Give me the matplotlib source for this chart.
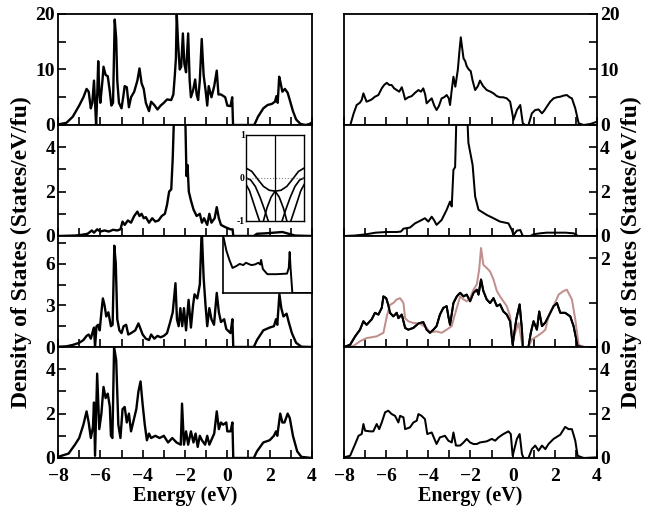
import numpy as np
import matplotlib
matplotlib.use("Agg")
import matplotlib.pyplot as plt
from matplotlib.ticker import MultipleLocator

plt.rcParams['font.family'] = ['Liberation Serif', 'DejaVu Serif']
plt.rcParams['font.weight'] = 'bold'

# energy range and tick labels
x_ticks = [-8, -6, -4, -2, 0, 2, 4]

# left column, (energy, DOS) pairs
left1 = [(-8.0,0.1),(-7.6,0.4),(-7.3,1.5),(-7.0,3.5),(-6.8,5.0),(-6.65,6.5),(-6.55,6.0),(-6.45,3.0),(-6.38,4.0),
         (-6.3,8.0),(-6.25,4.0),(-6.2,0.0),(-6.15,5.0),(-6.1,11.5),(-6.05,6.0),(-6.0,4.0),(-5.9,8.0),(-5.85,10.5),
         (-5.75,9.0),(-5.65,8.8),(-5.55,6.0),(-5.48,3.5),(-5.4,4.0),(-5.32,19.0),(-5.25,15.5),(-5.2,8.0),(-5.12,4.0),
         (-5.0,3.0),(-4.92,5.0),(-4.85,7.0),(-4.75,6.8),(-4.65,3.2),(-4.55,5.0),(-4.4,6.0),(-4.25,8.0),(-4.15,10.2),
         (-4.05,7.5),(-3.95,6.5),(-3.85,4.0),(-3.7,2.5),(-3.6,4.2),(-3.45,3.6),(-3.3,2.8),(-3.15,3.5),(-3.0,4.0),
         (-2.85,4.6),(-2.65,4.5),(-2.55,5.5),(-2.48,9.0),(-2.43,12.0),(-2.39,20.0),(-2.33,15.0),(-2.25,10.0),
         (-2.18,10.5),(-2.1,16.5),(-2.03,11.0),(-1.95,9.5),(-1.85,16.5),(-1.78,8.0),(-1.72,5.0),(-1.62,6.2),
         (-1.52,8.2),(-1.45,5.5),(-1.38,4.5),(-1.3,8.0),(-1.21,15.5),(-1.12,9.0),(-1.02,6.0),(-0.95,3.5),(-0.88,7.0),
         (-0.75,5.0),(-0.62,7.0),(-0.5,9.8),(-0.42,5.5),(-0.3,5.5),(-0.1,5.0),(0.0,3.5),(0.15,3.4),(0.23,5.0),
         (0.27,0.0),(1.27,0.0),(1.45,1.5),(1.7,3.0),(1.9,3.6),(2.1,3.8),(2.25,4.2),(2.32,5.2),(2.38,4.0),(2.45,8.7),
         (2.52,7.5),(2.6,6.0),(2.72,6.5),(2.85,5.8),(2.95,4.5),(3.1,2.5),(3.25,1.0),(3.45,0.2),(3.7,0.0),(3.9,0.2),
         (4.0,0.5)]
left2 = [(-8.0,0.0),(-7.2,0.02),(-6.9,0.05),(-6.6,0.1),(-6.4,0.25),(-6.3,0.15),(-6.15,0.3),(-6.0,0.2),(-5.8,0.25),
         (-5.6,0.2),(-5.4,0.28),(-5.2,0.25),(-5.05,0.3),(-4.95,0.65),(-4.85,0.5),(-4.7,0.7),(-4.55,0.6),(-4.4,0.9),
         (-4.25,1.1),(-4.15,0.9),(-4.05,1.0),(-3.95,0.8),(-3.85,0.85),(-3.7,0.6),(-3.55,0.8),(-3.4,0.65),(-3.25,0.7),
         (-3.1,0.9),(-2.95,1.0),(-2.85,1.4),(-2.75,2.0),(-2.65,2.1),(-2.58,3.5),(-2.5,6.0),(-2.0,6.0),(-1.93,2.7),
         (-1.88,3.2),(-1.82,2.0),(-1.72,1.6),(-1.6,1.2),(-1.45,0.9),(-1.3,1.0),(-1.2,0.6),(-1.1,0.8),(-0.95,0.5),
         (-0.85,1.0),(-0.75,0.6),(-0.6,0.8),(-0.5,1.3),(-0.4,0.8),(-0.3,0.5),(-0.1,0.4),(0.15,0.3),(0.25,0.3),
         (0.28,0.0),(1.25,0.0),(1.4,0.1),(1.8,0.12),(2.2,0.15),(2.6,0.18),(2.9,0.1),(3.2,0.02),(4.0,0.0)]
left3 = [(-8.0,0.02),(-7.6,0.05),(-7.3,0.15),(-7.0,0.3),(-6.8,0.5),(-6.65,0.8),(-6.55,0.9),(-6.45,0.6),(-6.38,1.0),
         (-6.3,1.4),(-6.25,0.0),(-6.18,1.5),(-6.1,1.6),(-6.03,1.2),(-5.95,2.5),(-5.88,3.5),(-5.8,3.0),(-5.72,2.2),
         (-5.62,2.5),(-5.5,1.5),(-5.42,1.6),(-5.34,7.3),(-5.27,6.0),(-5.2,2.0),(-5.1,1.2),(-5.0,1.0),(-4.9,1.5),
         (-4.78,1.6),(-4.68,0.9),(-4.55,1.0),(-4.35,1.2),(-4.2,1.7),(-4.1,1.3),(-4.0,0.9),(-3.85,0.6),(-3.7,0.5),
         (-3.6,0.9),(-3.45,0.6),(-3.3,0.8),(-3.15,0.7),(-3.0,0.8),(-2.85,1.0),(-2.7,1.8),(-2.58,2.5),(-2.45,4.6),
         (-2.38,2.0),(-2.3,1.5),(-2.22,2.8),(-2.13,1.5),(-2.05,2.8),(-1.95,1.2),(-1.83,3.4),(-1.72,1.4),(-1.62,3.0),
         (-1.55,3.8),(-1.42,3.5),(-1.3,4.5),(-1.21,8.5),(-1.12,5.0),(-1.03,3.0),(-0.95,1.5),(-0.85,2.8),(-0.75,2.0),
         (-0.63,1.6),(-0.5,3.9),(-0.4,2.5),(-0.3,1.8),(-0.15,2.0),(-0.05,1.3),(0.15,1.0),(0.24,2.0),(0.28,0.0),
         (1.25,0.0),(1.4,0.5),(1.7,1.2),(2.0,1.4),(2.2,1.5),(2.3,2.0),(2.36,1.6),(2.46,3.8),(2.55,2.8),(2.65,2.2),
         (2.8,2.4),(2.9,1.8),(3.05,1.0),(3.25,0.3),(3.5,0.02),(4.0,0.0)]
left4 = [(-8.0,0.05),(-7.5,0.2),(-7.2,0.6),(-7.0,0.9),(-6.8,1.5),(-6.65,2.1),(-6.55,1.6),(-6.45,0.9),(-6.35,1.4),
         (-6.3,2.5),(-6.25,0.1),(-6.15,3.8),(-6.05,1.3),(-5.95,2.0),(-5.85,3.2),(-5.75,2.7),(-5.65,2.9),(-5.55,2.3),
         (-5.5,1.0),(-5.43,0.9),(-5.35,5.0),(-5.25,4.4),(-5.15,1.5),(-5.05,0.9),(-4.95,2.2),(-4.85,2.3),(-4.75,1.6),
         (-4.65,2.0),(-4.55,1.2),(-4.45,1.6),(-4.3,2.2),(-4.2,3.0),(-4.1,3.45),(-4.0,2.4),(-3.9,1.5),(-3.8,0.8),
         (-3.7,1.1),(-3.6,0.9),(-3.4,1.0),(-3.2,0.9),(-3.0,1.0),(-2.8,0.7),(-2.6,0.9),(-2.4,0.7),(-2.2,0.6),
         (-2.14,2.45),(-2.05,0.6),(-1.95,1.2),(-1.85,0.6),(-1.72,1.2),(-1.6,0.7),(-1.5,1.1),(-1.4,0.5),(-1.3,1.0),
         (-1.2,0.8),(-1.05,0.6),(-0.95,1.0),(-0.85,0.6),(-0.62,1.1),(-0.5,2.1),(-0.4,1.3),(-0.3,1.6),(-0.2,1.5),
         (-0.05,1.6),(0.0,1.2),(0.15,1.2),(0.24,1.6),(0.28,0.0),(1.25,0.0),(1.4,0.3),(1.7,0.7),(2.0,0.8),(2.2,1.0),
         (2.3,1.2),(2.36,1.0),(2.5,2.0),(2.6,1.6),(2.7,1.6),(2.85,2.0),(2.95,1.8),(3.1,1.0),(3.3,0.3),(3.5,0.05),
         (4.0,0.0)]

# right column
right1 = [(-8.0,0.0),(-7.7,0.0),(-7.55,2.0),(-7.4,3.6),(-7.25,4.0),(-7.16,4.5),(-7.08,5.7),(-6.93,4.2),(-6.8,4.4),
          (-6.69,4.6),(-6.53,5.1),(-6.37,5.4),(-6.21,6.6),(-6.1,7.2),(-5.97,7.6),(-5.85,7.2),(-5.74,7.2),(-5.62,6.6),
          (-5.5,6.3),(-5.38,6.0),(-5.26,6.8),(-5.18,5.8),(-5.1,4.6),(-4.95,5.0),(-4.79,5.2),(-4.63,5.8),(-4.47,6.3),
          (-4.35,6.0),(-4.24,6.6),(-4.15,5.5),(-4.08,3.9),(-3.95,4.4),(-3.84,4.8),(-3.72,3.5),(-3.61,2.7),(-3.5,3.4),
          (-3.37,4.8),(-3.25,5.0),(-3.13,5.4),(-3.03,4.8),(-2.97,3.6),(-2.9,6.0),(-2.81,8.7),(-2.72,6.9),(-2.6,10.0),
          (-2.52,13.5),(-2.46,15.8),(-2.4,14.0),(-2.33,12.0),(-2.25,11.5),(-2.18,10.6),(-2.08,10.0),(-1.99,9.7),
          (-1.9,8.0),(-1.78,6.3),(-1.65,7.0),(-1.55,8.0),(-1.4,7.0),(-1.23,6.3),(-1.05,6.0),(-0.91,5.7),(-0.75,5.2),
          (-0.6,5.0),(-0.45,5.0),(-0.28,4.8),(-0.12,4.2),(0.04,0.9),(0.2,2.7),(0.36,3.6),(0.48,0.3),(0.6,0.0),
          (0.75,0.0),(0.91,2.1),(1.07,2.7),(1.23,2.8),(1.39,2.1),(1.5,2.6),(1.62,3.3),(1.78,4.2),(1.94,4.8),(2.1,5.0),
          (2.26,5.1),(2.42,5.3),(2.57,5.4),(2.7,5.0),(2.81,4.8),(2.97,3.0),(3.13,0.3),(3.37,0.0),(3.7,0.2),(4.0,0.6)]
right2 = [(-8.0,0.0),(-7.5,0.02),(-6.93,0.08),(-6.5,0.15),(-6.0,0.18),(-5.5,0.18),(-5.3,0.2),(-5.18,0.33),
          (-4.87,0.38),(-4.63,0.57),(-4.4,0.68),(-4.16,0.8),(-4.0,0.65),(-3.84,0.87),(-3.72,0.7),(-3.61,0.5),
          (-3.37,0.72),(-3.13,1.18),(-2.97,1.55),(-2.89,1.33),(-2.81,2.98),(-2.73,3.1),(-2.65,6.0),(-2.18,6.0),
          (-2.1,4.2),(-1.98,3.6),(-1.9,3.2),(-1.78,1.78),(-1.62,1.18),(-1.23,0.95),(-0.91,0.8),(-0.6,0.65),
          (-0.2,0.57),(-0.04,0.27),(0.04,0.05),(0.2,0.24),(0.36,0.27),(0.48,0.0),(0.84,0.0),(1.0,0.08),(1.3,0.12),
          (1.6,0.15),(2.5,0.15),(2.9,0.12),(3.1,0.0),(4.0,0.0)]
right3_black = [(-8.0,0.0),(-7.71,0.05),(-7.47,0.24),(-7.24,0.39),(-7.08,0.58),(-6.93,0.5),(-6.69,0.62),(-6.53,0.77),
                (-6.37,0.73),(-6.21,0.88),(-6.13,1.14),(-6.0,1.1),(-5.9,0.95),(-5.82,0.77),(-5.66,0.69),(-5.5,0.77),
                (-5.42,0.65),(-5.26,0.73),(-5.1,0.43),(-4.95,0.39),(-4.71,0.43),(-4.47,0.53),(-4.24,0.56),(-4.08,0.39),
                (-3.92,0.32),(-3.76,0.39),(-3.61,0.47),(-3.45,0.73),(-3.29,0.88),(-3.13,0.92),(-3.05,0.69),(-2.97,0.5),
                (-2.81,0.99),(-2.65,1.14),(-2.49,1.22),(-2.33,1.14),(-2.18,1.18),(-2.02,1.03),(-1.86,1.22),(-1.7,1.29),
                (-1.62,1.18),(-1.5,1.52),(-1.39,1.26),(-1.23,1.07),(-1.07,0.99),(-0.91,1.1),(-0.75,0.92),(-0.6,0.96),
                (-0.44,0.8),(-0.28,0.73),(-0.12,0.58),(0.0,0.05),(0.17,0.62),(0.33,0.96),(0.44,0.39),(0.48,0.0),
                (0.75,0.0),(0.86,0.32),(0.99,0.58),(1.15,0.39),(1.26,0.8),(1.39,0.47),(1.55,0.55),(1.7,0.69),
                (1.94,0.92),(2.1,0.99),(2.26,0.77),(2.49,0.77),(2.73,0.69),(2.89,0.47),(3.08,0.02),(3.37,0.0),(4.0,0.0)]
right3_pink = [(-8.0,0.0),(-7.56,0.02),(-7.24,0.13),(-6.93,0.2),(-6.45,0.24),(-6.13,0.32),(-5.97,0.69),(-5.82,0.95),
               (-5.66,0.99),(-5.5,1.07),(-5.34,1.1),(-5.18,0.99),(-5.1,0.65),(-4.95,0.58),(-4.71,0.54),(-4.4,0.53),
               (-4.08,0.43),(-3.92,0.33),(-3.61,0.35),(-3.37,0.32),(-3.13,0.39),(-2.89,0.47),(-2.81,0.62),(-2.65,0.88),
               (-2.49,1.14),(-2.33,1.07),(-2.18,1.03),(-2.02,1.1),(-1.86,1.29),(-1.7,1.41),(-1.59,1.74),(-1.5,2.23),
               (-1.39,1.85),(-1.23,1.78),(-1.07,1.7),(-0.91,1.52),(-0.75,1.26),(-0.6,1.14),(-0.44,1.03),(-0.28,0.92),
               (-0.12,0.69),(0.0,0.13),(0.12,0.32),(0.28,0.54),(0.44,0.09),(0.52,0.0),(0.75,0.0),(0.91,0.17),
               (1.15,0.24),(1.39,0.32),(1.55,0.39),(1.7,0.69),(1.94,0.92),(2.18,1.18),(2.41,1.26),(2.57,1.29),
               (2.81,1.07),(2.97,0.62),(3.13,0.05),(3.37,0.0),(4.0,0.0)]
right4 = [(-8.0,0.03),(-7.71,0.1),(-7.47,0.63),(-7.31,1.0),(-7.16,1.08),(-7.08,1.53),(-7.0,1.23),(-6.77,1.2),
          (-6.61,1.2),(-6.45,1.53),(-6.33,1.3),(-6.21,1.6),(-6.05,2.06),(-5.9,2.13),(-5.74,1.98),(-5.58,1.9),
          (-5.42,1.6),(-5.34,1.9),(-5.18,1.83),(-5.1,1.3),(-4.87,1.38),(-4.71,1.6),(-4.55,1.68),(-4.47,1.98),
          (-4.32,1.9),(-4.16,1.75),(-4.05,1.08),(-3.84,1.15),(-3.61,0.63),(-3.45,0.93),(-3.21,1.0),(-3.05,0.78),
          (-2.89,0.7),(-2.81,1.15),(-2.69,0.56),(-2.49,0.56),(-2.33,0.7),(-2.18,0.86),(-2.02,0.7),(-1.86,0.63),
          (-1.7,0.63),(-1.55,0.7),(-1.23,0.75),(-0.99,0.86),(-0.83,0.78),(-0.67,0.93),(-0.44,1.08),(-0.2,1.2),
          (-0.09,1.08),(0.0,0.1),(0.2,0.86),(0.33,1.08),(0.44,0.18),(0.52,0.0),(0.75,0.0),(0.91,0.4),(1.07,0.56),
          (1.23,0.33),(1.39,0.56),(1.55,0.4),(1.7,0.63),(1.94,0.86),(2.26,1.05),(2.49,1.4),(2.65,1.3),(2.81,1.3),
          (2.97,0.78),(3.08,0.1),(3.37,0.0),(4.0,0.03)]

# inset of panel 3 (relative units)
inset_dos = [(0.0,1.05),(0.04,0.75),(0.075,0.58),(0.11,0.44),(0.15,0.47),(0.19,0.51),(0.23,0.49),(0.26,0.53),
             (0.32,0.49),(0.36,0.5),(0.40,0.53),(0.42,0.5),(0.43,0.58),(0.45,0.42),(0.5,0.33),(0.6,0.33),
             (0.72,0.34),(0.74,0.44),(0.75,0.72),(0.76,0.44),(0.78,0.0),(1.0,0.0)]

# band structure inset (k path fraction, energy)
bands = [
    [(0,0.23),(0.1,0.15),(0.2,-0.03),(0.3,-0.2),(0.4,-0.29),(0.5,-0.31),(0.6,-0.29),(0.7,-0.2),(0.8,-0.03),(0.9,0.15),(1.0,0.23)],
    [(0,0.0),(0.08,-0.05),(0.16,-0.2),(0.24,-0.45),(0.32,-0.75),(0.38,-1.0)],
    [(1,0.0),(0.92,-0.05),(0.84,-0.2),(0.76,-0.45),(0.68,-0.75),(0.62,-1.0)],
    [(0,-0.15),(0.06,-0.3),(0.12,-0.55),(0.18,-0.8),(0.23,-1.0)],
    [(1,-0.15),(0.94,-0.3),(0.88,-0.55),(0.82,-0.8),(0.77,-1.0)],
    [(0.5,-0.31),(0.43,-0.45),(0.36,-0.7),(0.3,-1.0)],
    [(0.5,-0.31),(0.57,-0.45),(0.64,-0.7),(0.7,-1.0)],
]

ylims = [20, 5, 8, 5]
ymajor = [10, 2, 3, 2]
yminor = [5, 1, 1.5, 1]
ylims_r = [20, 5, 2.5, 5]
ymajor_r = [10, 2, 2, 2]
yminor_r = [5, 1, 1, 1]

fig = plt.figure(figsize=(6.45, 5.07), dpi=100)
H = 111 / 507
B0 = 1 - 458 / 507
lw = 1.7

def style(ax, ytop, ymaj, ymin, right, bottom):
    ax.set_xlim(-8, 4)
    ax.set_ylim(0, ytop)
    ax.xaxis.set_major_locator(MultipleLocator(2))
    ax.xaxis.set_minor_locator(MultipleLocator(1))
    ax.yaxis.set_major_locator(MultipleLocator(ymaj))
    ax.yaxis.set_minor_locator(MultipleLocator(ymin))
    ax.tick_params(which='both', direction='in', width=1.2, labelsize=14, top=False, pad=2)
    ax.tick_params(which='major', length=6)
    ax.tick_params(which='minor', length=6)
    if right:
        ax.yaxis.tick_right()
        ax.tick_params(which='both', left=False, right=True)
    for s in ax.spines.values():
        s.set_linewidth(1.3)
    if bottom:
        ax.set_xticks(x_ticks)
        ax.tick_params(axis='x', pad=7)
        ax.set_xlabel('Energy (eV)', fontsize=14.5, fontweight='bold', labelpad=1)
    else:
        ax.tick_params(labelbottom=False)

axes_l, axes_r = [], []
for i in range(4):
    b = B0 + (3 - i) * H
    al = fig.add_axes([58 / 645, b, 254 / 645, H])
    ar = fig.add_axes([344 / 645, b, 253 / 645, H])
    style(al, ylims[i], ymajor[i], yminor[i], False, i == 3)
    style(ar, ylims_r[i], ymajor_r[i], yminor_r[i], True, i == 3)
    axes_l.append(al)
    axes_r.append(ar)

for ax, data in zip(axes_l, [left1, left2, left3, left4]):
    d = np.array(data)
    ax.plot(d[:, 0], d[:, 1], color='black', lw=lw)

for ax, data in zip(axes_r, [right1, right2, right3_black, right4]):
    d = np.array(data)
    ax.plot(d[:, 0], d[:, 1], color='black', lw=lw * 0.85)
d = np.array(right3_pink)
axes_r[2].plot(d[:, 0], d[:, 1], color='#c0908c', lw=lw * 0.85)
d = np.array(right3_black)
axes_r[2].plot(d[:, 0], d[:, 1], color='black', lw=lw * 0.85)

# y labels
fig.text(21 / 645, 1 - 252 / 507, 'Density of States (States/eV/fu)', rotation=90,
         ha='center', va='center', fontsize=17, fontweight='bold')
fig.text(631 / 645, 1 - 252 / 507, 'Density of States (States/eV/fu)', rotation=90,
         ha='center', va='center', fontsize=17, fontweight='bold')

# band structure inset
axb = fig.add_axes([246 / 645, 1 - 220.7 / 507, 58.3 / 645, 85.7 / 507])
for band in bands:
    d = np.array(band)
    axb.plot(d[:, 0], d[:, 1], color='black', lw=1.2)
axb.axhline(0, color='gray', lw=0.8, ls=':')
axb.axvline(0.5, color='black', lw=0.9)
axb.set_xlim(0, 1)
axb.set_ylim(-1, 1)
axb.set_xticks([])
axb.set_yticks([-1, 0, 1])
axb.set_yticklabels(['-1', '0', '1'])
axb.tick_params(axis='y', length=0, labelsize=7, pad=1)
for s in axb.spines.values():
    s.set_linewidth(1.0)

# DOS zoom inset
axi = fig.add_axes([222.7 / 645, 1 - 293 / 507, 89.3 / 645, 57 / 507])
d = np.array(inset_dos)
axi.plot(d[:, 0], d[:, 1], color='black', lw=1.4)
axi.set_xlim(0, 1)
axi.set_ylim(0, 1)
axi.set_xticks([])
axi.set_yticks([])
for s in axi.spines.values():
    s.set_linewidth(1.2)

fig.savefig('out.png', dpi=100)
